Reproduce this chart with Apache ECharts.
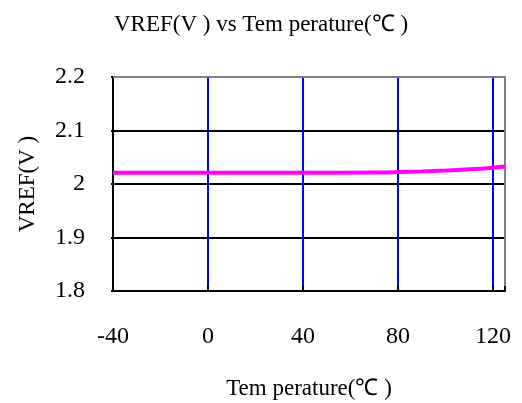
<!DOCTYPE html>
<html>
<head>
<meta charset="utf-8">
<script src="https://cdn.jsdelivr.net/npm/echarts@6/dist/echarts.min.js"></script>
<style>
  html, body { margin: 0; padding: 0; background: #fff; }
  #chart { width: 522px; height: 403px; }
</style>
</head>
<body>
<div id="chart"></div>
<script>
// data
const temps = [-40, 0, 40, 70, 80, 90, 100, 110, 120, 125]
const vref = [2.0212, 2.0212, 2.0212, 2.0214, 2.0222, 2.0236, 2.0254, 2.0275, 2.0305, 2.0325]
const xTicks = [-40, 0, 40, 80, 120]
const yTicks = [1.8, 1.9, 2.0, 2.1, 2.2]

const titleText = 'VREF(V ) vs Tem perature(℃ )'
const xName = 'Tem perature(℃ )'
const yName = 'VREF(V )'

const font = '"Liberation Serif", "Times New Roman", serif'

const chart = echarts.init(document.getElementById('chart'), null, { renderer: 'canvas' })

const option = {
  animation: false,
  backgroundColor: '#fff',
  textStyle: { fontFamily: font, color: '#000' },
  title: {
    text: titleText,
    left: 'center',
    top: 8,
    textStyle: { fontFamily: font, fontSize: 23, fontWeight: 'normal', color: '#000' },
  },
  grid: { left: 113, right: 17, top: 77, bottom: 112, outerBoundsMode: 'none', containLabel: false },
  xAxis: [
    {
      type: 'value',
      min: xTicks[0],
      max: 125,
      interval: 40,
      name: xName,
      nameLocation: 'middle',
      nameGap: 86,
      nameTextStyle: { fontFamily: font, fontSize: 23, color: '#000' },
      axisLine: { onZero: false, lineStyle: { color: '#000', width: 2 } },
      axisTick: { show: true, inside: true, length: 5, lineStyle: { color: '#000', width: 2 } },
      axisLabel: {
        margin: 34,
        fontFamily: font,
        fontSize: 24,
        color: '#000',
        formatter: (v) => (xTicks.includes(v) ? String(v) : ''),
      },
      splitLine: { show: true, lineStyle: { color: '#0000ff', width: 2 } },
    },
    {
      // grey top border
      type: 'value',
      position: 'top',
      min: xTicks[0],
      max: 125,
      axisLine: { show: true, onZero: false, lineStyle: { color: '#808080', width: 2 } },
      axisTick: { show: false },
      axisLabel: { show: false },
      splitLine: { show: false },
    },
  ],
  yAxis: [
    {
      type: 'value',
      min: yTicks[0],
      max: yTicks[yTicks.length - 1],
      interval: 0.1,
      name: yName,
      nameLocation: 'middle',
      nameGap: 74,
      nameRotate: 90,
      nameTextStyle: { fontFamily: font, fontSize: 23, color: '#000' },
      axisLine: { show: true, onZero: false, lineStyle: { color: '#000', width: 2 } },
      axisTick: { show: true, length: 2, lineStyle: { color: '#000', width: 2 } },
      axisLabel: {
        margin: 28,
        fontFamily: font,
        fontSize: 24,
        color: '#000',
        formatter: (v) => String(Math.round(v * 10) / 10),
      },
      splitLine: { show: true, lineStyle: { color: '#000', width: 2 } },
    },
    {
      // grey right border
      type: 'value',
      position: 'right',
      min: yTicks[0],
      max: yTicks[yTicks.length - 1],
      axisLine: { show: true, onZero: false, lineStyle: { color: '#808080', width: 2 } },
      axisTick: { show: false },
      axisLabel: { show: false },
      splitLine: { show: false },
    },
  ],
  series: [
    {
      type: 'line',
      data: temps.map((t, i) => [t, vref[i]]),
      smooth: 0.4,
      showSymbol: false,
      lineStyle: { color: '#ff00ff', width: 4 },
      z: 5,
    },
  ],
}

chart.setOption(option)
</script>
</body>
</html>
